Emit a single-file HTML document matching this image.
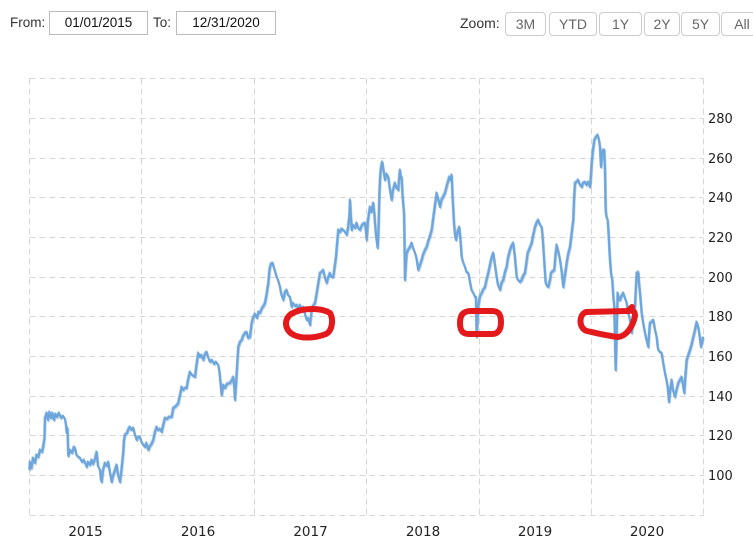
<!DOCTYPE html>
<html><head><meta charset="utf-8">
<style>
html,body{margin:0;padding:0;background:#fff;}
body{width:753px;height:544px;position:relative;overflow:hidden;font-family:"Liberation Sans",Arial,sans-serif;}
.lbl{position:absolute;font-size:13.5px;color:#333;top:14px;line-height:18px;}
.inp{position:absolute;top:11px;height:22px;border:1px solid #bbb;font-size:13.5px;color:#111;text-align:center;line-height:22px;box-sizing:content-box;}
.btn{position:absolute;top:12px;height:22px;border:1px solid #ccc;border-radius:4px;font-size:14px;color:#666;text-align:center;line-height:22px;background:#fff;}
svg{position:absolute;left:0;top:0;}
</style></head><body>
<div class="lbl" style="left:10px;">From:</div>
<div class="inp" style="left:49px;width:97px;">01/01/2015</div>
<div class="lbl" style="left:153px;">To:</div>
<div class="inp" style="left:176px;width:98px;">12/31/2020</div>
<div class="lbl" style="left:460px;font-size:14px;">Zoom:</div>
<div class="btn" style="left:505px;width:39px;">3M</div>
<div class="btn" style="left:549px;width:46px;">YTD</div>
<div class="btn" style="left:599px;width:41px;">1Y</div>
<div class="btn" style="left:644px;width:34px;">2Y</div>
<div class="btn" style="left:681px;width:37px;">5Y</div>
<div class="btn" style="left:721px;width:40px;">All</div>

<svg width="753" height="544" viewBox="0 0 753 544">
<g stroke="#d6d6d6" stroke-width="1" stroke-dasharray="6,4" fill="none">
<line x1="29.5" y1="78.5" x2="703.5" y2="78.5"/>
<line x1="29.5" y1="118.5" x2="703.5" y2="118.5"/>
<line x1="29.5" y1="158.5" x2="703.5" y2="158.5"/>
<line x1="29.5" y1="197.5" x2="703.5" y2="197.5"/>
<line x1="29.5" y1="237.5" x2="703.5" y2="237.5"/>
<line x1="29.5" y1="277.5" x2="703.5" y2="277.5"/>
<line x1="29.5" y1="316.5" x2="703.5" y2="316.5"/>
<line x1="29.5" y1="356.5" x2="703.5" y2="356.5"/>
<line x1="29.5" y1="396.5" x2="703.5" y2="396.5"/>
<line x1="29.5" y1="435.5" x2="703.5" y2="435.5"/>
<line x1="29.5" y1="475.5" x2="703.5" y2="475.5"/>
<line x1="29.5" y1="515.5" x2="703.5" y2="515.5"/>
<line x1="29.5" y1="78.5" x2="29.5" y2="515.5"/>
<line x1="141.5" y1="78.5" x2="141.5" y2="515.5"/>
<line x1="254.5" y1="78.5" x2="254.5" y2="515.5"/>
<line x1="366.5" y1="78.5" x2="366.5" y2="515.5"/>
<line x1="479.5" y1="78.5" x2="479.5" y2="515.5"/>
<line x1="591.5" y1="78.5" x2="591.5" y2="515.5"/>
<line x1="703.5" y1="78.5" x2="703.5" y2="515.5"/>
</g>
<g font-family="'DejaVu Sans',Verdana,sans-serif" font-size="13" fill="#222">
<text x="708" y="123">280</text>
<text x="708" y="163">260</text>
<text x="708" y="202">240</text>
<text x="708" y="242">220</text>
<text x="708" y="282">200</text>
<text x="708" y="321">180</text>
<text x="708" y="361">160</text>
<text x="708" y="401">140</text>
<text x="708" y="440">120</text>
<text x="708" y="480">100</text>
</g>
<g font-family="'DejaVu Sans',Verdana,sans-serif" font-size="13.5" fill="#222" text-anchor="middle">
<text x="85.5" y="536">2015</text>
<text x="198" y="536">2016</text>
<text x="310.5" y="536">2017</text>
<text x="423" y="536">2018</text>
<text x="535" y="536">2019</text>
<text x="647" y="536">2020</text>
</g>
<defs>
<polyline id="ser" fill="none" stroke-linejoin="round" points="
29.5,470 30,462 31.5,468 33,458 35,463 36.5,455 38.3,457 40,450 42,452 43.3,446 44.5,438 45,418 46.7,413 48,420 49.5,412 51,418 52.5,413 54,420 55.5,414 57,417 59,413 61,418 63,416 65,419 66,425 66.7,433 67.5,428 68.3,456 70,450 72,453 74,447 75,448 76.5,455 78.3,457 80,458 82,462 84,460 86.7,467 88,462 90,465 91.7,460 93,464 95,459 96.7,452 98,466 100,470 101,480 101.7,482 103,470 105,463 107,466 108.3,462 109.5,470 111.7,482 113,476 115,470 116.7,465 118,475 120,482 121.5,470 123.3,452 124,440 125,435 127,433 129,428 130,427 131.5,430 133.3,428 135,435 136.7,440 138,437 140,437 141.5,442 143.3,445 145,447 146.5,443 148.3,450 150,446 151.5,444 153.3,440 155,432 156.7,427 158,430 160,429 161.7,432 163,426 165,418 167,419 169,417 171.7,417 173.3,408 175,407 177,405 178.3,403 180,395 181.7,387 183,390 185,388 186.7,388 188,380 190,372 192,375 195,377 196.5,365 198.3,353 200,357 201.5,355 203.3,360 205,354 206.7,352 208,357 210,362 212,360 214,364 216,362 218.3,365 219.5,372 221.7,395 223.3,385 225,388 227,384 230,383 232,380 233.3,377 234.5,390 235,400 236,385 236.7,373 238.3,347 240,342 241.7,340 243,336 245,333 246.7,332 248,338 250,337 251.7,323 253,318 255,314 257,318 258.5,312 260,313 262,308 263.5,306 265,303 266.5,295 268.3,283 269.3,272 270,267 271,264 272.7,263 274,268 275.5,273 276.7,277 278,280 280,287 281.5,295 283.3,300 285,292 286.7,290 288,295 290,297 291.7,307 293,303 295,306 296.7,305 298,309 300,305 301.5,310 303.3,307 305,314 306.7,320 308,318 310,325 311.7,310 313,306 315,303 316.7,293 318,285 320,273 321.5,272 323.3,270 325,278 326.7,283 328,278 330,273 331.5,277 333.3,277 334.5,268 336,257 337,245 338.3,230 340,232 341.5,229 343.3,230 345,232 346.7,235 348,228 349.5,215 350,200 350.8,215 351.7,230 353,225 355,228 356.7,223 358,228 360,230 361.5,226 363,224 365,223 366,232 366.7,240 368,220 370,207 371.5,212 373.3,203 374.5,215 375,223 376,235 377.7,248 378.5,230 379.3,197 380,180 380.7,170 381.5,165 382.3,162 383.5,170 385,180 386.5,174 388.3,177 390,190 391.7,200 393,190 395,183 396.5,188 398.3,190 399,180 400,170 401,178 401.7,177 402.5,195 404,213 404.5,240 405,280 406,262 406.7,253 408,250 410,247 411.7,243 413,248 415,253 416.5,258 418.3,270 420,265 421.7,260 423,255 425,250 426.7,247 428,242 430,236 431.7,230 433,220 435,205 436.7,193 438,198 440,207 441.5,200 443,197 445,193 447,185 449.3,177 450.5,180 451.7,175 452.5,195 454,223 455,235 456,240 457.5,232 459.3,227 460.5,240 461.7,257 463,262 465,267 466.5,272 468.3,273 470,282 471.5,290 473.3,293 475,297 476,297 476.7,337 477.5,320 478.5,305 480,296 481.7,293 483,290 485,287 486.5,280 488.3,273 490,265 491.5,258 493.3,253 494.5,262 496.7,277 498,285 500,290 501.5,283 503.3,280 505,272 506.7,267 508,258 510,250 511.5,246 513.3,243 515,258 516.7,277 518,280 520,282 521.7,280 523,276 525,273 526.5,262 527.7,253 529,250 531.7,243 533,236 535,227 536.5,223 538.3,220 540,225 541.7,227 542.5,235 543.3,247 544.5,265 545.7,283 547,286 548.3,287 550,280 551,273 553,271 554.3,270 555.5,255 556.7,245 558,250 560,260 561.5,270 563.3,287 565,275 566.7,263 568,255 570,247 571.7,233 572.5,226 573.3,220 574,200 575,183 576.5,182 578.3,180 580,185 581.7,187 583,183 585,182 586.5,185 588.3,182 590,187 591,175 591.7,163 593,150 594.3,140 596,137 597.7,135 599,140 600,147 601,167 602.3,152 603.3,150 604.3,150 605,170 605.7,210 606.5,217 607.7,220 608.5,232 609.3,247 610,260 611,273 612.3,280 613.2,295 614.3,307 615,340 615.7,370 616.5,340 617.7,293 619,300 620,300 621.5,296 623.3,293 625,298 626.7,303 628,312 630,320 631.7,333 633,320 635,307 635.8,290 636.7,273 637.5,275 638.3,272 639,283 640,293 641.7,313 643,322 645,333 646.5,340 648.3,347 649,335 650,323 651.5,322 653.3,320 655,330 656.7,337 657.5,345 658.3,350 660,352 661.7,353 663,362 665,373 666.5,380 667.7,387 668.5,395 669,402 670,392 671.7,380 673,390 675,397 676.5,390 678.3,383 680,380 681.7,377 683,385 684.3,393 685.5,375 686.7,360 688,356 690,350 691.5,345 693.3,337 695,330 696.7,322 698.3,327 699.5,335 701,347 702,342 703.3,337"/>
</defs>
<use href="#ser" stroke="#6ea6dc" stroke-width="2" opacity="0.5" transform="translate(0.7,1.3)"/>
<use href="#ser" stroke="#6ea6dc" stroke-width="2" opacity="0.5" transform="translate(-0.5,-1)"/>
<use href="#ser" stroke="#6ea6dc" stroke-width="2.2"/>
<g fill="none" stroke="#e3191c" stroke-width="6" stroke-linecap="round" stroke-linejoin="round">
<path d="M291,314 C303,307 322,308 330,313 C334,320 332,331 326,334 C316,338 302,339 294,335 C285,331 283,320 291,314 Z"/>
<path d="M471,311 L492,311 C499,311 501,315 501,322 C501,330 498,334 492,334 L469,334 C462,334 460,330 460,323 C460,315 463,311 471,311 Z"/>
<path d="M586,312 L628,311 C633,310 635,311 635,316 C633,326 627,336 618,337 C608,336 596,333 587,331 C579,329 578,315 586,312 Z M628,311 L632,307"/>
</g>
</svg>
</body></html>
